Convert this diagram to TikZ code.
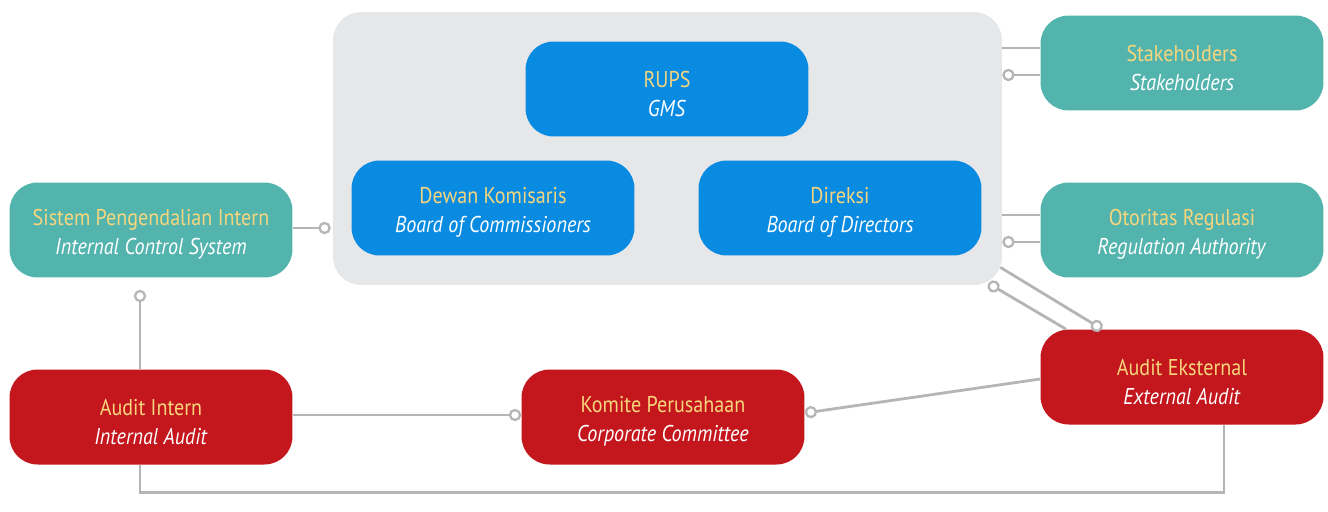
\documentclass[tikz,border=0pt]{standalone}
\usepackage{fontspec}
\setmainfont{PT Sans}[FakeStretch=0.88]
\usetikzlibrary{arrows.meta,calc}

\definecolor{panelgray}{HTML}{E6E7E9}
\definecolor{boxblue}{HTML}{0A8BE2}
\definecolor{boxteal}{HTML}{53B4AE}
\definecolor{boxred}{HTML}{C4161D}
\definecolor{titleyellow}{HTML}{F6D67C}
\definecolor{linegray}{HTML}{B5B5B5}

\begin{document}
\begin{tikzpicture}[x=0.02cm,y=-0.02cm]
            \tikzset{box/.style = {shape=rectangle, rounded corners=0.56cm, minimum width=5.66cm, minimum height=1.9cm, align=center, text=white, font=\fontsize{13}{16.5}\selectfont}}
            \tikzset{link/.style = {draw=linegray, line width=1.6pt}}
            \tikzset{dot/.style = {-{Circle[open, fill=white, length=7pt, line width=1.3pt]}}}
            \newcommand{\ttl}[1]{\rule{0pt}{14.5pt}\textcolor{titleyellow}{#1}}
            \useasboundingbox (0,0) rectangle (1328,511);
            % panel
            \node[fill=panelgray, rounded corners=0.56cm, minimum width=13.38cm, minimum height=5.46cm] (panel) at (667.5,148.5) {};
            % vertices
            \node[box, fill=boxblue] (rups) at (667,89) {\ttl{RUPS}\\\textit{GMS}};
            \node[box, fill=boxblue] (dewan) at (493,208) {\ttl{Dewan Komisaris}\\\textit{Board of Commissioners}};
            \node[box, fill=boxblue] (direksi) at (840,208) {\ttl{Direksi}\\\textit{Board of Directors}};
            \node[box, fill=boxteal] (stake) at (1182,63) {\ttl{Stakeholders}\\\textit{Stakeholders}};
            \node[box, fill=boxteal] (otoritas) at (1182,230) {\ttl{Otoritas Regulasi}\\\textit{Regulation Authority}};
            \node[box, fill=boxteal] (spi) at (151,230) {\ttl{Sistem Pengendalian Intern}\\\textit{Internal Control System}};
            \node[box, fill=boxred] (ai) at (151,417) {\ttl{Audit Intern}\\\textit{Internal Audit}};
            \node[box, fill=boxred] (komite) at (663,417) {\ttl{Komite Perusahaan}\\\textit{Corporate Committee}};
            \node[box, fill=boxred] (ae) at (1182,377) {\ttl{Audit Eksternal}\\\textit{External Audit}};
            % edges
            \draw[link] ($(stake.west)+(0,-15)$) -- ($(panel.east |- stake.west)+(0,-15)$);
            \draw[link, dot] ($(stake.west)+(0,12)$) -- ($(panel.east |- stake.west)+(0,12)$);
            \draw[link] ($(otoritas.west)+(0,-15)$) -- ($(panel.east |- otoritas.west)+(0,-15)$);
            \draw[link, dot] ($(otoritas.west)+(0,12)$) -- ($(panel.east |- otoritas.west)+(0,12)$);
            \draw[link, dot] ($(spi.east)+(0,-2)$) -- ($(panel.west |- spi.east)+(-2,-2)$);
            \draw[link, dot] ($(ai.north)+(-11,0)$) -- ($(spi.south)+(-11,12)$);
            \draw[link] ($(ai.south)+(-11,0)$) -- ++(0,28) -| ($(ae.south)+(42,0)$);
            \draw[link, dot] ($(ai.east)+(0,-2)$) -- ($(komite.west)+(0,-2)$);
            \draw[link, dot] ($(ae.west)+(0,2)$) -- ($(komite.east)+(0,-4)$);
            \draw[link, dot] ($(panel.south east)+(-2,-18)$) -- ($(ae.north)+(-80,0)$);
            \draw[link, dot] ($(ae.north)+(-116,0)$) -- ($(panel.south east)+(-14,-2)$);
        \end{tikzpicture}
\end{document}
